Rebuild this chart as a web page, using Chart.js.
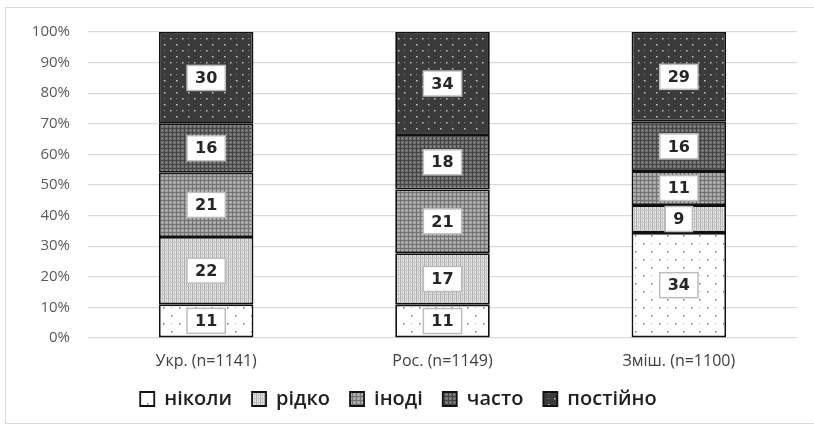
<!DOCTYPE html>
<html lang="uk">
<head>
<meta charset="UTF-8" />
<title>Частота використання</title>
<script src="https://cdn.jsdelivr.net/npm/chart.js"></script>
<style>
  html, body { margin: 0; padding: 0; background: #fff; }
  #wrap { position: relative; width: 814px; height: 427px; }
  #frame { position: absolute; left: 5px; top: 7px; width: 830px; height: 417px; border: 1px solid #d9d9d9; box-sizing: border-box; pointer-events: none; }
  canvas { display: block; }
</style>
</head>
<body>
<div id="wrap">
  <canvas id="chart" width="814" height="427"></canvas>
  <div id="frame"></div>
</div>
<script>
const categories = ['Укр. (n=1141)', 'Рос. (n=1149)', 'Зміш. (n=1100)'];
const seriesNames = ['ніколи', 'рідко', 'іноді', 'часто', 'постійно'];
const never     = [11, 11, 34];
const rarely    = [22, 17, 9];
const sometimes = [21, 21, 11];
const often     = [16, 18, 16];
const always    = [30, 34, 29];
const yTicks = [0, 10, 20, 30, 40, 50, 60, 70, 80, 90, 100];

const raw = [never, rarely, sometimes, often, always];
// each column is scaled to 100%
const totals = categories.map((_, i) => raw.reduce((s, arr) => s + arr[i], 0));
const shares = raw.map(arr => arr.map((v, i) => v / totals[i] * 100));

function tile(w, h, draw) {
  const c = document.createElement('canvas');
  c.width = w; c.height = h;
  draw(c.getContext('2d'));
  return document.getElementById('chart').getContext('2d').createPattern(c, 'repeat');
}

const fills = [
  tile(16, 16, g => {
    g.fillStyle = '#fff'; g.fillRect(0, 0, 16, 16);
    g.fillStyle = '#777';
    g.fillRect(3, 3, 1.5, 1.5); g.fillRect(11, 11, 1.5, 1.5);
    g.fillStyle = '#aaa';
    g.fillRect(11, 3, 1, 1);
  }),
  tile(4, 4, g => {
    g.fillStyle = '#e6e6e6'; g.fillRect(0, 0, 4, 4);
    g.fillStyle = '#a8a8a8'; g.fillRect(0, 0, 1, 4);
    g.fillStyle = '#c4c4c4'; g.fillRect(2, 0, 1, 4); g.fillRect(0, 2, 4, 1);
  }),
  tile(4, 4, g => {
    g.fillStyle = '#a4a4a4'; g.fillRect(0, 0, 4, 4);
    g.fillStyle = '#727272'; g.fillRect(0, 0, 1, 4); g.fillRect(0, 0, 4, 1);
    g.fillStyle = '#c0c0c0'; g.fillRect(2, 2, 1, 1);
  }),
  tile(4, 4, g => {
    g.fillStyle = '#6e6e6e'; g.fillRect(0, 0, 4, 4);
    g.fillStyle = '#454545'; g.fillRect(0, 0, 1, 4); g.fillRect(0, 0, 4, 1);
    g.fillStyle = '#9a9a9a'; g.fillRect(2, 2, 1, 1);
  }),
  tile(12, 12, g => {
    g.fillStyle = '#3b3b3b'; g.fillRect(0, 0, 12, 12);
    g.fillStyle = '#c8c8c8';
    g.fillRect(2, 2, 1.5, 1.5); g.fillRect(8, 8, 1.5, 1.5);
    g.fillStyle = '#8a8a8a';
    g.fillRect(8, 2, 1, 1);
  })
];

// value boxes in the middle of each segment
const valueBoxes = {
  id: 'valueBoxes',
  afterDatasetsDraw(chart) {
    const ctx = chart.ctx;
    ctx.save();
    ctx.font = 'bold 16px "DejaVu Sans", sans-serif';
    ctx.textAlign = 'center';
    ctx.textBaseline = 'middle';
    chart.data.datasets.forEach((ds, di) => {
      chart.getDatasetMeta(di).data.forEach((bar, i) => {
        const label = String(raw[di][i]);
        const y = (bar.y + bar.base) / 2;
        const w = ctx.measureText(label).width + 16;
        const h = 25;
        ctx.fillStyle = '#fff';
        ctx.fillRect(bar.x - w / 2, y - h / 2, w, h);
        ctx.strokeStyle = '#bdbdbd';
        ctx.lineWidth = 1.5;
        ctx.strokeRect(bar.x - w / 2, y - h / 2, w, h);
        ctx.fillStyle = '#262626';
        ctx.fillText(label, bar.x, y + 1);
      });
    });
    ctx.restore();
  }
};

new Chart(document.getElementById('chart'), {
  type: 'bar',
  data: {
    labels: categories,
    datasets: seriesNames.map((name, k) => ({
      label: name,
      data: shares[k],
      backgroundColor: fills[k],
      borderColor: '#111',
      borderWidth: 1.8,
      borderSkipped: false,
      barPercentage: 0.4,
      categoryPercentage: 1
    }))
  },
  options: {
    responsive: false,
    animation: false,
    layout: { padding: { left: 0, right: 17, top: 32, bottom: 8 } },
    plugins: {
      tooltip: { enabled: false },
      legend: {
        position: 'bottom',
        labels: {
          boxWidth: 14,
          boxHeight: 14,
          padding: 20,
          color: '#1f1f1f',
          font: { family: '"Open Sans", sans-serif', size: 20, weight: '600' }
        }
      }
    },
    scales: {
      x: {
        stacked: true,
        grid: { display: false },
        border: { display: false },
        ticks: { color: '#404040', font: { family: '"Open Sans", sans-serif', size: 16 }, padding: 6 },
        afterFit: s => { s.height = 31; }
      },
      y: {
        stacked: true,
        min: 0,
        max: 100,
        afterBuildTicks: s => { s.ticks = yTicks.map(v => ({ value: v })); },
        grid: { color: '#d9d9d9', lineWidth: 1.2, drawTicks: false },
        border: { display: false },
        ticks: {
          color: '#595959',
          padding: 18,
          font: { family: '"Open Sans", sans-serif', size: 15 },
          callback: v => v + '%'
        },
        afterFit: s => { s.width = 88; }
      }
    }
  },
  plugins: [valueBoxes]
});
</script>
</body>
</html>
